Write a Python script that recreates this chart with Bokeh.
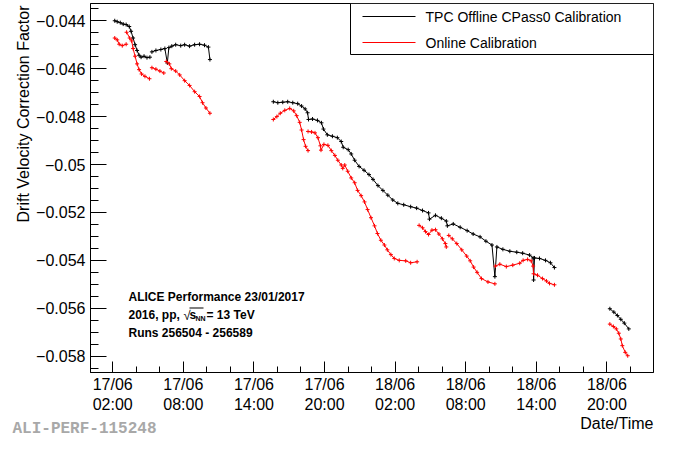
import math
from bokeh.plotting import figure
from bokeh.models import Range1d, FixedTicker, Label, Title, BoxAnnotation
from bokeh.embed import file_html
from bokeh.resources import INLINE

# ---------------- data (hours since 17/06 00:00, drift velocity correction factor) ----------
black_h1 = [2.17, 2.38, 2.64, 2.89, 3.14, 3.40, 3.56, 3.73, 3.90, 4.07, 4.24, 4.41, 4.66, 4.91, 5.16]
black_v1 = [-0.04400, -0.04404, -0.04408, -0.04414, -0.04416, -0.04424, -0.04444, -0.04472,
            -0.04500, -0.04524, -0.04544, -0.04552, -0.04548, -0.04554, -0.04552]
black_h2 = [5.33, 5.67, 6.09, 6.43, 6.64, 6.77, 7.02, 7.35, 7.78, 8.11, 8.53, 8.96, 9.38, 9.80, 10.13, 10.26]
black_v2 = [-0.04530, -0.04524, -0.04520, -0.04516, -0.04576, -0.04512, -0.04506, -0.04500,
            -0.04504, -0.04500, -0.04506, -0.04500, -0.04498, -0.04502, -0.04510, -0.04562]
black_h3 = [15.65, 16.03, 16.45, 16.87, 17.30, 17.72, 18.05, 18.35, 18.56, 18.64, 18.98, 19.40,
            19.74, 19.91, 20.24, 20.67, 21.09, 21.42, 21.59, 22.01, 22.27, 22.56, 22.94, 23.36,
            23.78, 24.12, 24.54, 24.96, 25.38, 25.80, 26.23, 26.73, 27.32, 27.83, 28.33, 28.84,
            28.92, 29.43, 29.93, 30.35, 30.44, 30.94, 31.53, 32.12, 32.63, 33.22, 33.72, 34.23,
            34.48, 34.65, 35.16, 35.75, 36.34, 36.84, 37.43, 37.73, 37.77, 37.85, 38.27, 38.78,
            39.20, 39.54]
black_v3 = [-0.04738, -0.04742, -0.04740, -0.04738, -0.04742, -0.04746, -0.04756, -0.04768,
            -0.04784, -0.04812, -0.04810, -0.04816, -0.04826, -0.04852, -0.04876, -0.04882,
            -0.04888, -0.04904, -0.04928, -0.04938, -0.04956, -0.04982, -0.05008, -0.05024,
            -0.05042, -0.05062, -0.05088, -0.05108, -0.05128, -0.05148, -0.05162, -0.05168,
            -0.05176, -0.05182, -0.05192, -0.05202, -0.05228, -0.05212, -0.05224, -0.05236,
            -0.05256, -0.05248, -0.05262, -0.05276, -0.05290, -0.05302, -0.05320, -0.05336,
            -0.05468, -0.05344, -0.05354, -0.05362, -0.05366, -0.05370, -0.05378, -0.05390,
            -0.05482, -0.05390, -0.05392, -0.05400, -0.05410, -0.05430]
black_h4 = [44.25, 44.59, 44.89, 45.18, 45.48, 45.86]
black_v4 = [-0.05602, -0.05616, -0.05630, -0.05646, -0.05662, -0.05686]

red_h1 = [2.17, 2.38, 2.55, 2.81, 3.14]
red_v1 = [-0.04472, -0.04480, -0.04498, -0.04504, -0.04498]
red_h2 = [3.18, 3.44, 3.61, 3.73, 3.90, 4.07, 4.24, 4.45, 4.74, 5.12]
red_v2 = [-0.04448, -0.04472, -0.04484, -0.04516, -0.04548, -0.04580, -0.04604, -0.04622,
          -0.04632, -0.04642]
red_h3 = [5.33, 5.67, 6.01, 6.34]
red_v3 = [-0.04596, -0.04602, -0.04610, -0.04618]
red_h4 = [6.55, 6.81, 6.98, 7.35, 7.69, 8.11, 8.53, 8.96, 9.38, 9.63, 9.92, 10.26]
red_v4 = [-0.04570, -0.04580, -0.04600, -0.04610, -0.04626, -0.04650, -0.04670, -0.04696,
          -0.04716, -0.04742, -0.04764, -0.04786]
red_h5 = [15.65, 15.95, 16.24, 16.62, 17.04, 17.38, 17.63, 17.89, 18.05, 18.22, 18.39, 18.60]
red_v5 = [-0.04812, -0.04800, -0.04786, -0.04774, -0.04766, -0.04776, -0.04796, -0.04824,
          -0.04856, -0.04896, -0.04924, -0.04942]
red_h6 = [18.60, 18.90, 19.19, 19.44, 19.65, 19.70, 19.95, 20.29, 20.58, 20.88, 21.13, 21.42,
          21.55, 21.72, 21.97, 22.27, 22.56, 22.81, 23.11, 23.40, 23.66, 23.95, 24.25, 24.50,
          24.79, 25.09, 25.34, 25.64, 25.93, 26.35, 26.90, 27.32, 27.87]
red_v6 = [-0.04862, -0.04864, -0.04868, -0.04888, -0.04922, -0.04940, -0.04916, -0.04920,
          -0.04942, -0.04962, -0.04982, -0.05002, -0.05016, -0.05002, -0.05028, -0.05056,
          -0.05076, -0.05108, -0.05130, -0.05156, -0.05188, -0.05222, -0.05256, -0.05288,
          -0.05316, -0.05336, -0.05356, -0.05376, -0.05392, -0.05400, -0.05402, -0.05410,
          -0.05406]
red_h7 = [28.04, 28.33, 28.58, 28.84, 29.13, 29.43, 29.72, 30.02, 30.27, 30.35]
red_v7 = [-0.05254, -0.05264, -0.05280, -0.05292, -0.05274, -0.05272, -0.05290, -0.05310,
          -0.05330, -0.05344]
red_h8 = [30.56, 30.86, 31.24, 31.66, 32.08, 32.38, 32.67, 32.97, 33.34, 33.89, 34.48]
red_v8 = [-0.05296, -0.05310, -0.05330, -0.05356, -0.05382, -0.05402, -0.05428, -0.05450,
          -0.05476, -0.05490, -0.05498]
red_h9 = [34.52, 34.90, 35.45, 36.00, 36.59, 36.88, 37.26, 37.56, 37.73, 37.77, 38.10, 38.53,
          38.86, 39.12, 39.54]
red_v9 = [-0.05424, -0.05416, -0.05426, -0.05420, -0.05412, -0.05400, -0.05396, -0.05402,
          -0.05424, -0.05456, -0.05462, -0.05476, -0.05486, -0.05496, -0.05502]
red_h10 = [44.25, 44.55, 44.80, 45.01, 45.18, 45.31, 45.56, 45.77]
red_v10 = [-0.05666, -0.05676, -0.05686, -0.05704, -0.05728, -0.05756, -0.05784, -0.05798]

series_names = ["TPC Offline CPass0 Calibration", "Online Calibration"]
series_colors = ["black", "red"]

x_major_ticks = [2, 8, 14, 20, 26, 32, 38, 44]
x_tick_labels = ["17/06\n02:00", "17/06\n08:00", "17/06\n14:00", "17/06\n20:00",
                 "18/06\n02:00", "18/06\n08:00", "18/06\n14:00", "18/06\n20:00"]
x_minor_ticks = [4, 6, 10, 12, 16, 18, 22, 24, 28, 30, 34, 36, 40, 42, 46]

y_major_ticks = [-0.058, -0.056, -0.054, -0.052, -0.05, -0.048, -0.046, -0.044]
y_tick_labels = ["\u22120.058", "\u22120.056", "\u22120.054", "\u22120.052", "\u22120.05",
                 "\u22120.048", "\u22120.046", "\u22120.044"]
y_minor_ticks = [-0.0585 + 0.0005 * i for i in range(31) if i % 4 != 1]


def join(segments):
    xs, ys = [], []
    for i, (h, v) in enumerate(segments):
        if i:
            xs.append(float("nan"))
            ys.append(float("nan"))
        xs += h
        ys += v
    return xs, ys


bx, by = join([(black_h1, black_v1), (black_h2, black_v2), (black_h3, black_v3), (black_h4, black_v4)])
rx, ry = join([(red_h1, red_v1), (red_h2, red_v2), (red_h3, red_v3), (red_h4, red_v4),
               (red_h5, red_v5), (red_h6, red_v6), (red_h7, red_v7), (red_h8, red_v8),
               (red_h9, red_v9), (red_h10, red_v10)])

FONT = "Liberation Sans"

p = figure(width=657, height=437, output_backend="svg", toolbar_location=None,
           x_range=Range1d(0.11, 47.96), y_range=Range1d(-0.05868, -0.04328),
           min_border_left=90, min_border_right=4, min_border_top=3, min_border_bottom=65)
p.xgrid.visible = False
p.ygrid.visible = False
p.outline_line_color = "black"
p.outline_line_alpha = 1
p.outline_line_width = 1

p.xaxis.ticker = FixedTicker(ticks=x_major_ticks, minor_ticks=x_minor_ticks)
p.xaxis.major_label_overrides = dict(zip(x_major_ticks, x_tick_labels))
p.yaxis.ticker = FixedTicker(ticks=y_major_ticks, minor_ticks=y_minor_ticks)
p.yaxis.major_label_overrides = dict(zip(y_major_ticks, y_tick_labels))
for ax in (p.xaxis, p.yaxis):
    ax.axis_line_color = "black"
    ax.major_tick_line_color = "black"
    ax.minor_tick_line_color = "black"
    ax.major_tick_out = 0
    ax.minor_tick_out = 0
    ax.major_label_text_font = FONT
    ax.major_label_text_font_size = "16px"
    ax.major_label_text_color = "black"
p.xaxis.major_tick_in = 11
p.xaxis.minor_tick_in = 6
p.xaxis.major_label_standoff = 3
p.yaxis.major_tick_in = 16
p.yaxis.minor_tick_in = 8
p.yaxis.major_label_standoff = 5

# data
p.line(bx, by, line_color=series_colors[0], line_width=1)
p.scatter(bx, by, marker="cross", size=4, line_color=series_colors[0], line_width=1)
p.line(rx, ry, line_color=series_colors[1], line_width=1)
p.scatter(rx, ry, marker="cross", size=4, line_color=series_colors[1], line_width=1)


def lab(x, y, text, size="12px", style="bold", place=None, angle=0.0, align="left"):
    l = Label(x=x, y=y, x_units="screen", y_units="screen", text=text, angle=angle,
              text_font=FONT, text_font_size=size, text_font_style=style,
              text_align=align, text_baseline="middle", text_color="black")
    if place:
        p.add_layout(l, place)
    else:
        p.add_layout(l)


def sbox(left, right, top, bottom, fill, line=None):
    p.add_layout(BoxAnnotation(left=left, right=right, top=top, bottom=bottom,
                               left_units="screen", right_units="screen",
                               top_units="screen", bottom_units="screen",
                               fill_color=fill, fill_alpha=1, line_color=line,
                               line_alpha=1, line_width=1))


# legend box (frame-relative screen units)
sbox(260, 563, 369, 318, "white", "black")
for i, (name, col) in enumerate(zip(series_names, series_colors)):
    yy = 356 - 26 * i
    sbox(272, 325, yy + 0.5, yy - 0.5, col)
    lab(335, yy, name, size="14px", style="normal")

# ALICE info block
lab(38, 76, "ALICE Performance 23/01/2017")
lab(38, 57.5, "2016, pp,")
lab(93, 57.5, "\u221a", size="13px", style="normal")
lab(99, 57.5, "s")
lab(105, 54, "NN", size="7px")
lab(116, 57.5, "= 13 TeV")
sbox(99, 113, 65, 64, "black")
lab(38, 40, "Runs 256504 - 256589")

# y-axis title, aligned with the top of the frame
lab(7, 367, "Drift Velocity Correction Factor", size="16px", style="normal", place="left",
    angle=math.pi / 2, align="right")

# texts below the x axis
p.add_layout(Title(text="Date/Time", align="right", vertical_align="bottom", standoff=-5,
                   offset=0, text_font=FONT, text_font_size="16px", text_font_style="normal",
                   text_color="black"), "below")
p.add_layout(Title(text="ALI-PERF-115248", align="left", vertical_align="top", standoff=-20,
                   offset=-78, text_font="Liberation Mono", text_font_size="16px",
                   text_font_style="bold", text_color="#a8a8a8"), "below")

open("out.html", "w").write(file_html(p, INLINE))
